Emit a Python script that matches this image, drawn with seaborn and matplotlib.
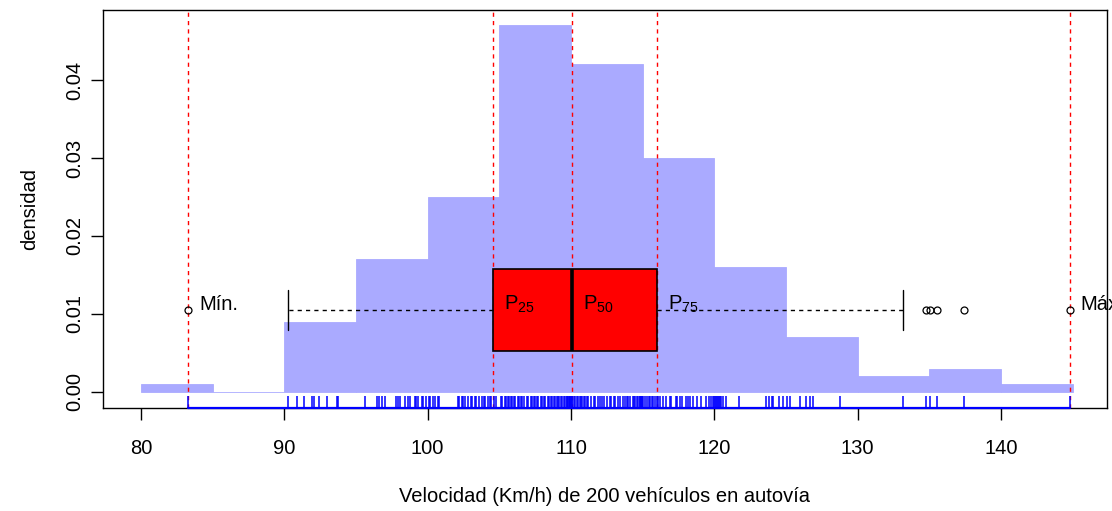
import numpy as np
import matplotlib
matplotlib.use("Agg")
import matplotlib.pyplot as plt
import seaborn as sns

# Speeds (km/h) of 200 vehicles measured on a motorway
speeds = [
    83.3,
    90.25, 90.9, 91.35, 91.9, 92.05, 92.45, 92.95, 93.65, 93.75,
    95.6, 96.5, 96.6, 96.8, 97.0, 97.8, 97.9, 98.1, 98.4, 98.6,
    98.8, 99.1, 99.2, 99.3, 99.6, 99.7, 99.9,
    100.1, 100.2, 100.4, 100.5, 100.7, 100.8, 102.1, 102.2, 102.4, 102.5,
    102.6, 102.8, 103.0, 103.1, 103.3, 103.4, 103.6, 103.8, 103.9, 104.0,
    104.2, 104.35, 104.45, 104.6, 104.8,
    105.1, 105.2, 105.4, 105.5, 105.6, 105.7, 105.8, 105.9,
    106.0, 106.1, 106.3, 106.4, 106.5, 106.6, 106.7, 106.9,
    107.0, 107.2, 107.3, 107.4, 107.5, 107.6, 107.7, 107.9,
    108.0, 108.1, 108.2, 108.4, 108.5, 108.6, 108.7, 108.8, 108.9,
    109.0, 109.1, 109.2, 109.3, 109.4, 109.5, 109.6, 109.7, 109.75,
    109.8, 109.85, 109.9, 109.95, 109.99,
    110.05, 110.1, 110.2, 110.3, 110.4, 110.5, 110.6, 110.7, 110.8, 110.9,
    111.0, 111.1, 111.2, 111.4, 111.6, 111.7, 111.9,
    112.0, 112.2, 112.3, 112.5, 112.7, 112.8,
    113.0, 113.1, 113.3, 113.4, 113.6, 113.8, 113.9,
    114.0, 114.1, 114.3, 114.4, 114.5, 114.6, 114.7, 114.8, 114.85,
    114.9, 114.95, 114.98,
    115.05, 115.2, 115.3, 115.45, 115.55, 115.65, 115.75, 115.85, 116.0,
    116.1, 116.2, 116.4, 116.6, 116.9, 117.0, 117.3, 117.4, 117.6, 117.75,
    118.0, 118.2, 118.3, 118.5, 118.8, 119.1, 119.4, 119.6, 119.8, 119.9,
    119.95,
    120.05, 120.1, 120.2, 120.25, 120.3, 120.4, 120.5, 120.6, 120.8, 121.7,
    123.6, 123.8, 124.0, 124.1, 124.5, 124.8,
    125.1, 125.3, 126.0, 126.4, 126.7, 126.9, 128.8,
    133.15, 134.75,
    135.05, 135.55, 137.4,
    144.8,
]

bin_edges = list(range(80, 150, 5))
x_ticks = [80, 90, 100, 110, 120, 130, 140]
y_ticks = [0.00, 0.01, 0.02, 0.03, 0.04]
stat_labels = ["Mín.", r"$\mathregular{P_{25}}$", r"$\mathregular{P_{50}}$",
               r"$\mathregular{P_{75}}$", "Máx"]
box_level = 0.0105

sns.set_theme(style="white")
plt.rcParams["font.family"] = ["Liberation Sans", "DejaVu Sans"]
plt.rcParams["mathtext.fontset"] = "custom"
plt.rcParams["mathtext.rm"] = "Liberation Sans"

FS = 14.5

fig = plt.figure(figsize=(11.12, 5.11), dpi=100)
ax = fig.add_axes([0.0926, 0.2016, 0.9029, 0.7788])

# density histogram
sns.histplot(x=speeds, bins=bin_edges, stat="density", color="#AAAAFF",
             alpha=1, edgecolor="#AAAAFF", linewidth=0.6, ax=ax, zorder=1)

# reference lines at min, quartiles and max
stats = np.percentile(speeds, [0, 25, 50, 75, 100])
for v in stats:
    ax.axvline(v, color="red", linestyle=(0, (3, 3)), linewidth=1, zorder=2)

# horizontal boxplot overlaid on the histogram
ax.boxplot(
    speeds, positions=[box_level], widths=0.0105, orientation="horizontal",
    patch_artist=True, manage_ticks=False, whis=1.5, capwidths=0.0052,
    boxprops=dict(facecolor="red", edgecolor="black", linewidth=1.2),
    medianprops=dict(color="black", linewidth=2.6),
    whiskerprops=dict(color="black", linewidth=1, linestyle=(0, (3, 3))),
    capprops=dict(color="black", linewidth=1),
    flierprops=dict(marker="o", markerfacecolor="none", markeredgecolor="black",
                    markersize=5, markeredgewidth=0.9),
    zorder=4,
)

# statistic labels next to each reference line
for v, lab in zip(stats, stat_labels):
    ax.text(v + 0.75, box_level, lab, ha="left", va="baseline",
            fontsize=FS, color="black", zorder=6, clip_on=False)

# rug of individual observations along the bottom
sns.rugplot(x=speeds, height=0.03, color="blue", linewidth=1.1, ax=ax, zorder=5)
ax.plot([stats[0], stats[-1]], [0, 0], transform=ax.get_xaxis_transform(),
        color="blue", linewidth=1.6, clip_on=False, zorder=6)

ax.set_xlim(77.35, 147.4)
ax.set_ylim(-0.00205, 0.04897)
ax.set_xticks(x_ticks)
ax.set_yticks(y_ticks)
ax.set_yticklabels([f"{t:.2f}" for t in y_ticks], rotation=90, va="center")

for s in ax.spines.values():
    s.set_visible(True)
    s.set_color("black")
    s.set_linewidth(1)

ax.tick_params(axis="both", direction="out", length=8.5, width=1,
               color="black", labelsize=FS, labelcolor="black",
               bottom=True, left=True)
ax.tick_params(axis="x", pad=14)
ax.tick_params(axis="y", pad=5)

ax.set_xlabel("Velocidad (Km/h) de 200 vehículos en autovía", fontsize=FS,
              color="black", va="center")
ax.xaxis.set_label_coords(0.5, -0.2236)
ax.set_ylabel("densidad", fontsize=FS, color="black", va="center")
ax.yaxis.set_label_coords(-0.0727, 0.5)

fig.savefig("out.png", dpi=100)
